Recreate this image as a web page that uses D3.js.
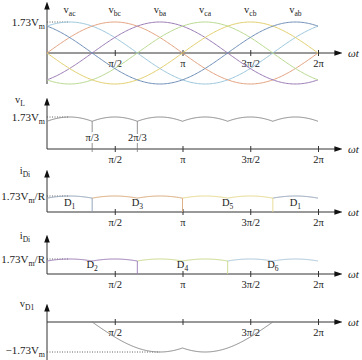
<!DOCTYPE html>
<html><head><meta charset="utf-8">
<script src="https://cdn.jsdelivr.net/npm/d3@7"></script>
<style>
html,body{margin:0;padding:0;background:#fff;}
svg{display:block;}
svg text{font-family:"Liberation Serif","DejaVu Serif",serif;}
</style></head>
<body>
<svg id="c" width="362" height="360"></svg>
<script>
// ---- data ----
const amplitude = 1.73;                 // peak line voltage (×Vm)
const lineNames = ["ac","bc","ba","ca","cb","ab"];
const linePeaks = [1/6, 1/2, 5/6, 7/6, 3/2, 11/6];   // peak position, multiples of π
const lineColors = ["#9cc7dd","#e3a27f","#9b7bb5","#b9d98f","#e2cf6e","#6f8fb8"];
const tickValues = [0.5, 1, 1.5, 2];    // multiples of π
const tickLabels = ["π/2","π","3π/2","2π"];
const cuspValues = [1/3, 2/3];
const cuspLabels = ["π/3","2π/3"];
const upperDiodes = ["1","3","5","1"];
const upperStart  = [0, 1/3, 1, 5/3];
const upperEnd    = [1/3, 1, 5/3, 2];
const upperColors = ["#8a9cb4","#d9a877","#e6d98c","#8a9cb4"];
const lowerDiodes = ["2","4","6"];
const lowerStart  = [0, 2/3, 4/3];
const lowerEnd    = [2/3, 4/3, 2];
const lowerColors = ["#9b7bb5","#c9d98a","#a9c6da"];
// ---- helpers ----
const PI = Math.PI;
const FONT = "'Liberation Serif','DejaVu Serif',serif";
const svg = d3.select("#c");
const x = d3.scaleLinear().domain([0, 2*PI]).range([47, 318]);
const lineV = (k, t) => amplitude*Math.cos(t - linePeaks[k]*PI);
const vL = t => d3.max(d3.range(6), k => lineV(k, t));
const axisCol = "#333";

const defs = svg.append("defs");
defs.append("marker").attr("id","arr").attr("viewBox","0 0 10 10")
  .attr("refX",2).attr("refY",5).attr("markerWidth",8).attr("markerHeight",8)
  .attr("markerUnits","userSpaceOnUse").attr("orient","auto")
  .append("path").attr("d","M0,1.5 L10,5 L0,8.5 Z").attr("fill","#111");

function sample(a, b, n=120){ return d3.range(n+1).map(i => a + (b-a)*i/n); }

function txt(g, xx, yy, main, sub, opts={}){
  const t = g.append("text").attr("x",xx).attr("y",yy).attr("font-family",FONT)
    .attr("font-size", opts.size||11).attr("fill","#222")
    .attr("text-anchor", opts.anchor||"start");
  t.append("tspan").text(main);
  if (sub){ t.append("tspan").attr("font-size",(opts.size||11)*0.72).attr("dy",2.5).text(sub);
    if (opts.after){ t.append("tspan").attr("dy",-2.5).text(opts.after); } }
  return t;
}

function panel(cfg){
  const g = svg.append("g");
  const y = d3.scaleLinear().domain([0, cfg.peak]).range([cfg.axisY, cfg.peakY]);
  g.append("line").attr("x1",47).attr("x2",47).attr("y1",cfg.yBottom).attr("y2",cfg.yTop+7)
    .attr("stroke",axisCol).attr("stroke-width",1).attr("marker-end","url(#arr)");
  g.append("line").attr("x1",47).attr("x2",336).attr("y1",cfg.axisY).attr("y2",cfg.axisY)
    .attr("stroke",axisCol).attr("stroke-width",1).attr("marker-end","url(#arr)");
  const ax = d3.axisBottom(x).tickValues(tickValues.map(v=>v*PI))
    .tickFormat((d,i)=> cfg.hideTick && cfg.hideTick.includes(i) ? "" : tickLabels[i]).tickSize(3);
  const axg = g.append("g").attr("transform",`translate(0,${cfg.axisY})`).call(ax)
    .attr("font-family",FONT);
  axg.select(".domain").remove();
  axg.selectAll(".tick line").attr("y1",-3).attr("y2",3).attr("stroke",axisCol);
  axg.selectAll(".tick text").attr("y",7).attr("font-size",10.5).attr("fill","#222")
    .attr("font-family",FONT).attr("dy","0.71em");
  g.append("text").attr("x",348).attr("y",cfg.axisY+4).attr("font-size",11)
    .attr("font-family",FONT).attr("font-style","italic").attr("fill","#222").text("ωt");
  return {g, y};
}

const line = (xf, yf) => d3.line().x(xf).y(yf);

// ---------- Panel 1 ----------
{
  const {g, y} = panel({axisY:53, peakY:22, peak:amplitude, yTop:1, yBottom:84});
  g.append("line").attr("x1",47).attr("x2",x(linePeaks[0]*PI)).attr("y1",y(amplitude)).attr("y2",y(amplitude))
    .attr("stroke","#555").attr("stroke-dasharray","1,1.5").attr("stroke-width",0.9);
  d3.range(6).forEach(k => {
    g.append("path").datum(sample(0, 2*PI, 200))
      .attr("d", line(t=>x(t), t=>y(lineV(k,t))))
      .attr("fill","none").attr("stroke",lineColors[k]).attr("stroke-width",1);
    txt(g, x(linePeaks[k]*PI), 13, "v", lineNames[k], {anchor:"middle", size:10.5});
  });
  txt(g, 45, 26, "1.73V", "m", {anchor:"end", size:11});
}

// ---------- Panel 2 ----------
{
  const {g, y} = panel({axisY:149, peakY:117, peak:amplitude, yTop:97, yBottom:149});
  g.append("line").attr("x1",47).attr("x2",x(PI/6)).attr("y1",y(amplitude)).attr("y2",y(amplitude))
    .attr("stroke","#555").attr("stroke-dasharray","1,1.5").attr("stroke-width",0.9);
  g.append("path").datum(sample(0, 2*PI, 360))
    .attr("d", line(t=>x(t), t=>y(vL(t))))
    .attr("fill","none").attr("stroke","#8a8a8a").attr("stroke-width",1);
  cuspValues.forEach((c,i) => {
    const t = c*PI;
    g.append("line").attr("x1",x(t)).attr("x2",x(t)).attr("y1",y(vL(t))).attr("y2",152)
      .attr("stroke","#777").attr("stroke-width",0.8);
    g.append("text").attr("x",x(t)).attr("y",141).attr("text-anchor","middle")
      .attr("font-family",FONT).attr("font-size",10.5).attr("fill","#222")
      .attr("stroke","#fff").attr("stroke-width",4).attr("paint-order","stroke")
      .text(cuspLabels[i]);
  });
  txt(g, 20, 103, "v", "L", {anchor:"middle", size:10.5});
  txt(g, 45, 121, "1.73V", "m", {anchor:"end", size:11});
}

// ---------- Panels 3 & 4 ----------
function diodePanel(axisY, peakY, yTop, names, starts, ends, colors, labelY){
  const {g, y} = panel({axisY, peakY, peak:amplitude, yTop, yBottom:axisY});
  g.append("line").attr("x1",47).attr("x2",x(PI/6)).attr("y1",y(amplitude)).attr("y2",y(amplitude))
    .attr("stroke","#555").attr("stroke-dasharray","1,1.5").attr("stroke-width",0.9);
  names.forEach((n,i) => {
    const a = starts[i]*PI, b = ends[i]*PI;
    g.append("path").datum(sample(a, b, 120))
      .attr("d", line(t=>x(t), t=>y(vL(t))))
      .attr("fill","none").attr("stroke",colors[i]).attr("stroke-width",1);
    if (i > 0) {
      g.append("line").attr("x1",x(a)).attr("x2",x(a)).attr("y1",y(vL(a))).attr("y2",axisY)
        .attr("stroke",colors[i-1]).attr("stroke-width",0.9);
    }
    txt(g, x((a+b)/2), axisY-6, "D", n, {anchor:"middle", size:10.5});
  });
  txt(g, 25, labelY, "i", "Di", {anchor:"middle", size:10.5});
  txt(g, 45, y(amplitude)+4, "1.73V", "m", {anchor:"end", size:11, after:"/R"});
}
diodePanel(212, 196, 169, upperDiodes, upperStart, upperEnd, upperColors, 174);
diodePanel(274, 259, 234, lowerDiodes, lowerStart, lowerEnd, lowerColors, 239);

// ---------- Panel 5 ----------
{
  const {g, y} = panel({axisY:322, peakY:352, peak:-amplitude, yTop:303, yBottom:360, hideTick:[1]});
  const vD1 = t => (t <= PI/3 || t >= 5*PI/3) ? 0 : (t <= PI ? lineV(5,t) : lineV(0,t));
  g.append("line").attr("x1",47).attr("x2",x(5*PI/6)).attr("y1",y(-amplitude)).attr("y2",y(-amplitude))
    .attr("stroke","#555").attr("stroke-dasharray","1,1.5").attr("stroke-width",0.9);
  g.append("path").datum(sample(PI/3, 5*PI/3, 240))
    .attr("d", line(t=>x(t), t=>y(vD1(t))))
    .attr("fill","none").attr("stroke","#8a8a8a").attr("stroke-width",1);
  txt(g, 27, 307, "v", "D1", {anchor:"middle", size:10.5});
  txt(g, 45, 354, "−1.73V", "m", {anchor:"end", size:11});
}
</script>
</body></html>
